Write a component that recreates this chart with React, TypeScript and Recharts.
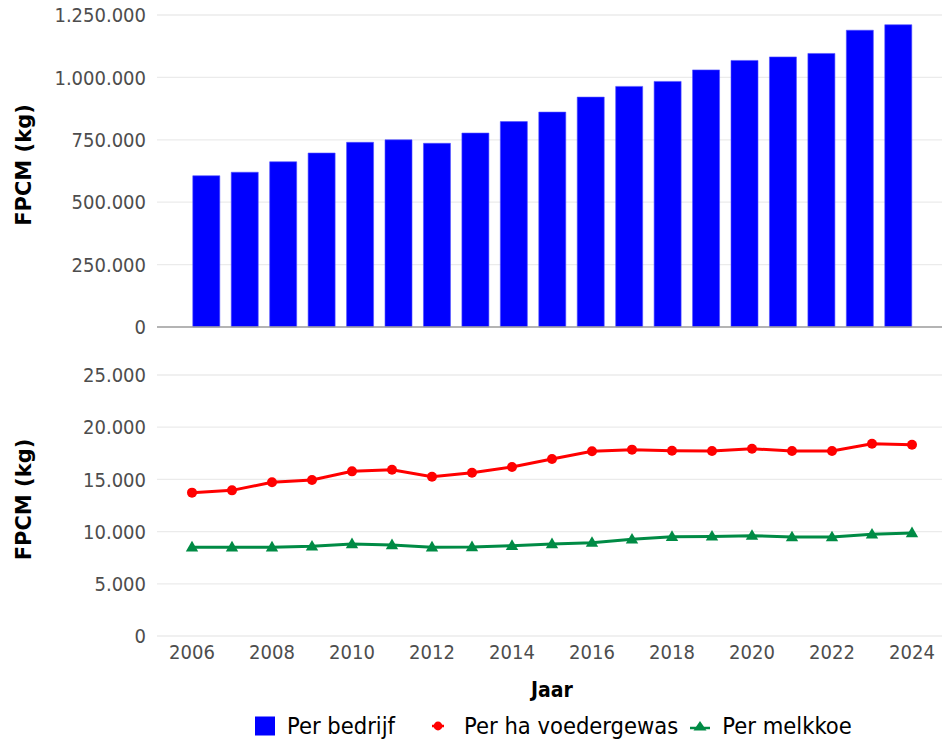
import React from 'react';
import { BarChart, Bar, LineChart, Line, XAxis, YAxis, CartesianGrid, ReferenceLine, Legend } from 'recharts';

const years = [2006, 2007, 2008, 2009, 2010, 2011, 2012, 2013, 2014, 2015, 2016, 2017, 2018, 2019, 2020, 2021, 2022, 2023, 2024];
const perBedrijf = [606000, 620000, 662000, 697000, 740000, 750000, 736000, 777000, 823000, 861000, 921000, 964000, 984000, 1030000, 1068000, 1082000, 1096000, 1189000, 1211000];
const perHaVoedergewas = [13730, 13950, 14720, 14940, 15770, 15930, 15260, 15640, 16190, 16950, 17690, 17850, 17750, 17720, 17940, 17720, 17720, 18420, 18320];
const perMelkkoe = [8500, 8500, 8500, 8590, 8810, 8720, 8500, 8530, 8650, 8810, 8940, 9260, 9510, 9540, 9610, 9480, 9480, 9740, 9870];

const topTicks = [0, 250000, 500000, 750000, 1000000, 1250000];
const bottomTicks = [0, 5000, 10000, 15000, 20000, 25000];
const xTicks = [2006, 2008, 2010, 2012, 2014, 2016, 2018, 2020, 2022, 2024];
const seriesNames = ['Per bedrijf', 'Per ha voedergewas', 'Per melkkoe'];
const yTitle = 'FPCM (kg)';
const xTitle = 'Jaar';

const BLUE = '#0000FF';
const RED = '#FF0000';
const GREEN = '#008B45';
const FONT = "'DejaVu Sans Condensed', 'DejaVu Sans', sans-serif";
const FONT_REG = "'DejaVu Sans', sans-serif";
const TICK = { fill: '#4d4d4d', fontSize: 20, fontFamily: FONT };

const fmt = (v: number) => String(Math.round(v)).replace(/\B(?=(\d{3})+(?!\d))/g, '.');

const barData = years.map((y, i) => ({ year: y, bedrijf: perBedrijf[i] }));
const lineData = years.map((y, i) => ({ year: y, ha: perHaVoedergewas[i], koe: perMelkkoe[i] }));

const YTitle = (props: any) => {
  const vb = props.viewBox || {};
  const cx = 24;
  const cy = (vb.y || 0) + (vb.height || 0) / 2 - 6;
  return (
    <text x={cx} y={cy} transform={`rotate(-90 ${cx} ${cy})`} textAnchor="middle" dominantBaseline="central"
      fontFamily={FONT_REG} fontWeight="bold" fontSize={21} fill="#000">{yTitle}</text>
  );
};

const XTitle = (props: any) => {
  const vb = props.viewBox || {};
  const cx = 552;
  const cy = (vb.y || 0) + 54;
  return (
    <text x={cx} y={cy} textAnchor="middle" dominantBaseline="central"
      fontFamily={FONT} fontWeight="bold" fontSize={21} fill="#000">{xTitle}</text>
  );
};

const Triangle = (props: any) => {
  const { cx, cy } = props;
  if (cx == null || cy == null) return null;
  return <path d={`M${cx},${cy - 6.4} L${cx + 6.2},${cy + 4.2} L${cx - 6.2},${cy + 4.2} Z`} fill={GREEN} stroke="none" />;
};

const LegendContent = () => (
  <div style={{ height: 34, display: 'flex', alignItems: 'center', paddingLeft: 255, fontFamily: FONT, fontSize: 23.5, color: '#000', whiteSpace: 'nowrap', position: 'relative', top: 3 }}>
    <svg width={20} height={20} style={{ marginRight: 12, flex: 'none' }}>
      <rect x={0} y={0.5} width={20} height={19} fill={BLUE} />
    </svg>
    <span style={{ marginRight: 33 }}>{seriesNames[0]}</span>
    <svg width={20} height={20} style={{ marginRight: 16, flex: 'none' }}>
      <line x1={4} y1={10} x2={16} y2={10} stroke={RED} strokeWidth={2.5} />
      <circle cx={10} cy={10} r={4.4} fill={RED} />
    </svg>
    <span style={{ marginRight: 12 }}>{seriesNames[1]}</span>
    <svg width={20} height={20} style={{ marginRight: 12, flex: 'none' }}>
      <line x1={0} y1={12} x2={20} y2={12} stroke={GREEN} strokeWidth={2.5} />
      <path d="M10,5 L16.5,14.5 L3.5,14.5 Z" fill={GREEN} />
    </svg>
    <span>{seriesNames[2]}</span>
  </div>
);

export default function App() {
  return (
    <div style={{ position: 'fixed', left: 0, top: 0, width: 942, height: 740, background: '#fff', fontFamily: FONT, overflow: 'hidden' }}>
      <div style={{ position: 'absolute', left: 0, top: 0 }}>
        <BarChart width={942} height={340} data={barData} margin={{ top: 15, right: 0, bottom: 13, left: 0 }}>
          <CartesianGrid horizontal vertical={false} stroke="#ebebeb" strokeWidth={1.3} />
          <XAxis dataKey="year" type="number" domain={[2004.725, 2025.1445]} hide allowDataOverflow />
          <YAxis width={157} domain={[0, 1250000]} ticks={topTicks} interval={0} tickFormatter={fmt}
            axisLine={false} tickLine={false} tickSize={0} tickMargin={11} tick={TICK} label={{ content: YTitle }} />
          <Bar dataKey="bedrijf" name={seriesNames[0]} fill={BLUE} stroke="#5050ff" strokeWidth={0.6} barSize={27} isAnimationActive={false} />
          <ReferenceLine y={0} stroke="#a0a0a0" strokeWidth={1.5} />
        </BarChart>
      </div>
      <div style={{ position: 'absolute', left: 0, top: 340 }}>
        <LineChart width={942} height={400} data={lineData} margin={{ top: 35, right: 0, bottom: 0, left: 0 }}>
          <CartesianGrid horizontal vertical={false} stroke="#ebebeb" strokeWidth={1.3} />
          <XAxis dataKey="year" type="number" domain={[2005.125, 2024.75]} ticks={xTicks} interval={0} allowDataOverflow
            axisLine={false} tickLine={false} tickSize={0} tickMargin={9} height={70} tick={TICK} label={{ content: XTitle }} />
          <YAxis width={157} domain={[0, 25000]} ticks={bottomTicks} interval={0} tickFormatter={fmt}
            axisLine={false} tickLine={false} tickSize={0} tickMargin={11} tick={TICK} label={{ content: YTitle }} />
          <Line type="linear" dataKey="ha" name={seriesNames[1]} stroke={RED} strokeWidth={3}
            dot={{ r: 5, fill: RED, stroke: RED, strokeWidth: 0 }} activeDot={false} isAnimationActive={false} />
          <Line type="linear" dataKey="koe" name={seriesNames[2]} stroke={GREEN} strokeWidth={3}
            dot={<Triangle />} activeDot={false} isAnimationActive={false} />
          <Legend verticalAlign="bottom" align="left" height={34} wrapperStyle={{ left: 0, width: 942 }} content={<LegendContent />} />
        </LineChart>
      </div>
    </div>
  );
}
